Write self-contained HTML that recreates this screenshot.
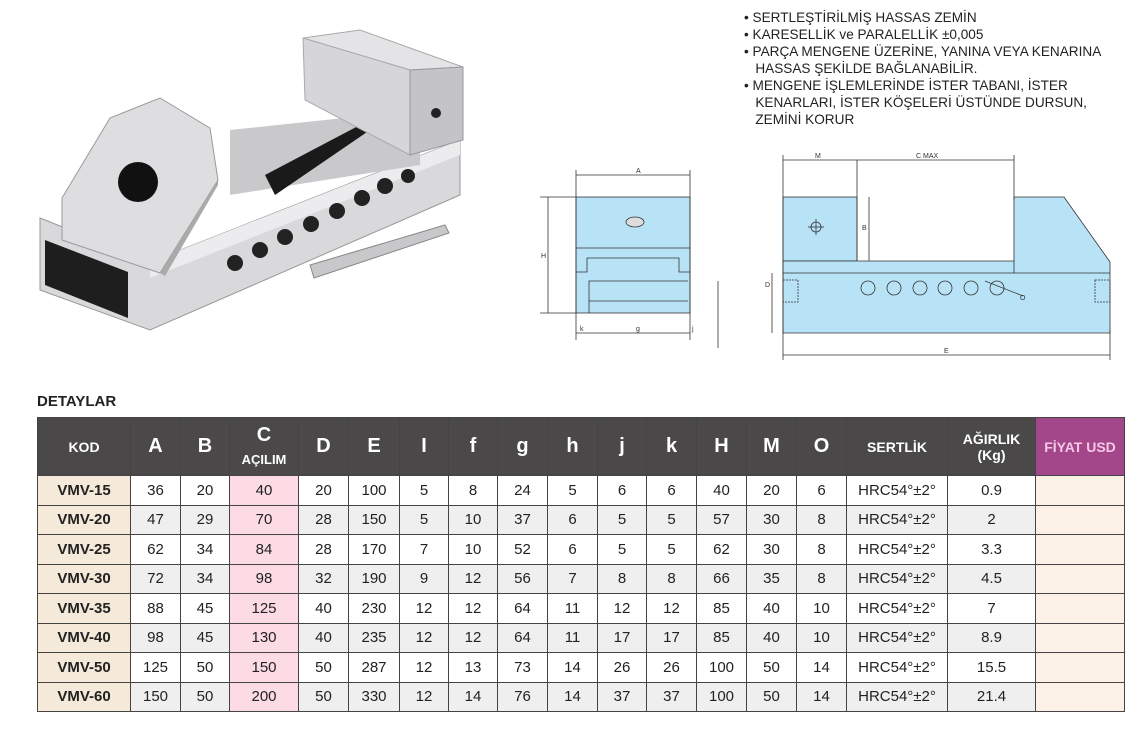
<!DOCTYPE html>
<html><head><meta charset="utf-8"><style>
body{margin:0;width:1141px;height:745px;background:#fff;position:relative;overflow:hidden;font-family:"Liberation Sans",sans-serif;}
.feat{position:absolute;left:744px;top:9px;font-size:13.6px;line-height:17px;color:#222;white-space:nowrap;}
.det{position:absolute;left:37px;top:393px;font-weight:bold;font-size:15px;color:#222;}
table{position:absolute;left:37px;top:417px;border-collapse:collapse;table-layout:fixed;}
td,th{border:1px solid #444;text-align:center;padding:0;font-size:15px;color:#222;}
th{background:#4a4848;color:#fff;height:57px;font-size:20px;font-weight:bold;}
th.s{font-size:14px;}
td{height:28.5px;}
tr.g td{background:#efefef;}
td.k{background:#f5ead9!important;font-weight:bold;}
td.c{background:#fcdbe5!important;}
td.p{background:#fbf1e6!important;}
th.p{background:#a3468a;color:#f7c8e6;font-size:14px;}
</style></head><body>
<svg width="480" height="340" style="position:absolute;left:0;top:0">
 <polygon points="40,218 150,262 460,140 460,195 150,330 40,290" fill="#d9d9db" stroke="#999"/>
 <polygon points="150,262 460,140 460,155 150,278" fill="#ececee"/>
 <polygon points="45,240 128,272 128,318 45,285" fill="#1e1e1e"/>
 <polygon points="230,130 420,110 420,165 230,195" fill="#c9c9cc"/>
 <polygon points="265,175 360,125 370,130 275,195" fill="#1a1a1a"/>
 <polygon points="303,38 360,30 463,67 410,70" fill="#e4e4e6" stroke="#aaa"/>
 <polygon points="303,38 410,70 410,155 305,100" fill="#d6d6d9" stroke="#aaa"/>
 <polygon points="410,70 463,67 463,140 410,155" fill="#c4c4c8" stroke="#999"/>
 <polygon points="62,198 110,118 160,98 210,128 218,180 160,273 62,240" fill="#dedee0" stroke="#999"/>
 <polygon points="160,273 218,180 218,185 165,276" fill="#aaa"/>
 <circle cx="138" cy="182" r="20" fill="#111"/>
 <circle cx="436" cy="113" r="5" fill="#222"/>
 <g fill="#222"><circle cx="235" cy="263" r="8"/><circle cx="260" cy="250" r="8"/><circle cx="285" cy="237" r="8"/><circle cx="311" cy="224" r="8"/><circle cx="337" cy="211" r="8"/><circle cx="362" cy="198" r="8"/><circle cx="385" cy="186" r="8"/><circle cx="408" cy="176" r="7"/></g>
 <polygon points="310,265 445,225 449,233 314,278" fill="#c8c8ca" stroke="#888"/>
</svg>
<div class="feat">
• SERTLEŞTİRİLMİŞ HASSAS ZEMİN<br>
• KARESELLİK ve PARALELLİK ±0,005<br>
• PARÇA MENGENE ÜZERİNE, YANINA VEYA KENARINA<br>
&nbsp;&nbsp;&nbsp;HASSAS ŞEKİLDE BAĞLANABİLİR.<br>
• MENGENE İŞLEMLERİNDE İSTER TABANI, İSTER<br>
&nbsp;&nbsp;&nbsp;KENARLARI, İSTER KÖŞELERİ ÜSTÜNDE DURSUN,<br>
&nbsp;&nbsp;&nbsp;ZEMİNİ KORUR
</div>
<svg width="1141" height="380" style="position:absolute;left:0;top:0" font-family="Liberation Sans" font-size="7" fill="#333">
 <g stroke="#333" stroke-width="0.8" fill="none">
 <rect x="576" y="197" width="114" height="116" fill="#b8e3f7"/>
 <line x1="576" y1="248" x2="690" y2="248"/>
 <polyline points="576,272 587,272 587,258 679,258 679,272 690,272"/>
 <polyline points="589,313 589,281 688,281"/>
 <line x1="589" y1="301" x2="688" y2="301"/>
 <line x1="576" y1="175" x2="690" y2="175"/><line x1="548" y1="197" x2="548" y2="313"/>
 <line x1="576" y1="333" x2="690" y2="333"/>
 <line x1="540" y1="197" x2="576" y2="197"/><line x1="540" y1="313" x2="576" y2="313"/>
 <line x1="576" y1="170" x2="576" y2="340"/><line x1="690" y1="170" x2="690" y2="340"/>
 <line x1="718" y1="281" x2="718" y2="348"/>
 <rect x="783" y="197" width="74" height="64" fill="#b8e3f7"/>
 <polygon points="783,261 1014,261 1014,197 1064,197 1110,262 1110,333 783,333" fill="#b8e3f7"/>
 <line x1="783" y1="273" x2="1110" y2="273"/><line x1="1014" y1="261" x2="1014" y2="273"/>
 <line x1="783" y1="160" x2="1014" y2="160"/><line x1="857" y1="160" x2="857" y2="261"/>
 <line x1="783" y1="155" x2="783" y2="360"/><line x1="1014" y1="155" x2="1014" y2="200"/>
 <line x1="1110" y1="330" x2="1110" y2="360"/>
 <line x1="783" y1="355" x2="1110" y2="355"/>
 <line x1="869" y1="197" x2="869" y2="261"/><line x1="772" y1="273" x2="772" y2="333"/>
 <g><circle cx="868" cy="288" r="7"/><circle cx="894" cy="288" r="7"/><circle cx="920" cy="288" r="7"/><circle cx="945" cy="288" r="7"/><circle cx="971" cy="288" r="7"/><circle cx="997" cy="288" r="7"/></g>
 <line x1="985" y1="281" x2="1023" y2="296"/>
 <circle cx="816" cy="227" r="5"/><line x1="808" y1="227" x2="824" y2="227"/><line x1="816" y1="219" x2="816" y2="235"/>
 <rect x="783" y="280" width="15" height="22" stroke-dasharray="2,1"/><rect x="1095" y="280" width="15" height="22" stroke-dasharray="2,1"/>
 <ellipse cx="635" cy="222" rx="9" ry="5" fill="#ddd"/>
 </g>
 <text x="636" y="173">A</text><text x="541" y="258">H</text><text x="916" y="158">C MAX</text><text x="815" y="158">M</text>
 <text x="862" y="230">B</text><text x="765" y="287">D</text><text x="944" y="353">E</text><text x="636" y="331">g</text><text x="580" y="331">k</text><text x="692" y="331">j</text><text x="1020" y="300">O</text>
</svg>
<div class="det">DETAYLAR</div>
<table>
<colgroup><col style="width:93px"><col style="width:50px"><col style="width:49px"><col style="width:69px"><col style="width:50px"><col style="width:51px"><col style="width:49px"><col style="width:49px"><col style="width:50px"><col style="width:50px"><col style="width:49px"><col style="width:50px"><col style="width:50px"><col style="width:50px"><col style="width:50px"><col style="width:101px"><col style="width:88px"><col style="width:89px"></colgroup>
<tr><th class="s">KOD</th><th>A</th><th>B</th><th>C<br><span style="font-size:13px">AÇILIM</span></th><th>D</th><th>E</th><th>I</th><th>f</th><th>g</th><th>h</th><th>j</th><th>k</th><th>H</th><th>M</th><th>O</th><th class="s">SERTLİK</th><th class="s">AĞIRLIK<br>(Kg)</th><th class="p">FİYAT USD</th></tr>
<tr><td class="k">VMV-15</td><td>36</td><td>20</td><td class="c">40</td><td>20</td><td>100</td><td>5</td><td>8</td><td>24</td><td>5</td><td>6</td><td>6</td><td>40</td><td>20</td><td>6</td><td>HRC54°±2°</td><td>0.9</td><td class="p"></td></tr>
<tr class="g"><td class="k">VMV-20</td><td>47</td><td>29</td><td class="c">70</td><td>28</td><td>150</td><td>5</td><td>10</td><td>37</td><td>6</td><td>5</td><td>5</td><td>57</td><td>30</td><td>8</td><td>HRC54°±2°</td><td>2</td><td class="p"></td></tr>
<tr><td class="k">VMV-25</td><td>62</td><td>34</td><td class="c">84</td><td>28</td><td>170</td><td>7</td><td>10</td><td>52</td><td>6</td><td>5</td><td>5</td><td>62</td><td>30</td><td>8</td><td>HRC54°±2°</td><td>3.3</td><td class="p"></td></tr>
<tr class="g"><td class="k">VMV-30</td><td>72</td><td>34</td><td class="c">98</td><td>32</td><td>190</td><td>9</td><td>12</td><td>56</td><td>7</td><td>8</td><td>8</td><td>66</td><td>35</td><td>8</td><td>HRC54°±2°</td><td>4.5</td><td class="p"></td></tr>
<tr><td class="k">VMV-35</td><td>88</td><td>45</td><td class="c">125</td><td>40</td><td>230</td><td>12</td><td>12</td><td>64</td><td>11</td><td>12</td><td>12</td><td>85</td><td>40</td><td>10</td><td>HRC54°±2°</td><td>7</td><td class="p"></td></tr>
<tr class="g"><td class="k">VMV-40</td><td>98</td><td>45</td><td class="c">130</td><td>40</td><td>235</td><td>12</td><td>12</td><td>64</td><td>11</td><td>17</td><td>17</td><td>85</td><td>40</td><td>10</td><td>HRC54°±2°</td><td>8.9</td><td class="p"></td></tr>
<tr><td class="k">VMV-50</td><td>125</td><td>50</td><td class="c">150</td><td>50</td><td>287</td><td>12</td><td>13</td><td>73</td><td>14</td><td>26</td><td>26</td><td>100</td><td>50</td><td>14</td><td>HRC54°±2°</td><td>15.5</td><td class="p"></td></tr>
<tr class="g"><td class="k">VMV-60</td><td>150</td><td>50</td><td class="c">200</td><td>50</td><td>330</td><td>12</td><td>14</td><td>76</td><td>14</td><td>37</td><td>37</td><td>100</td><td>50</td><td>14</td><td>HRC54°±2°</td><td>21.4</td><td class="p"></td></tr>
</table>
</body></html>
